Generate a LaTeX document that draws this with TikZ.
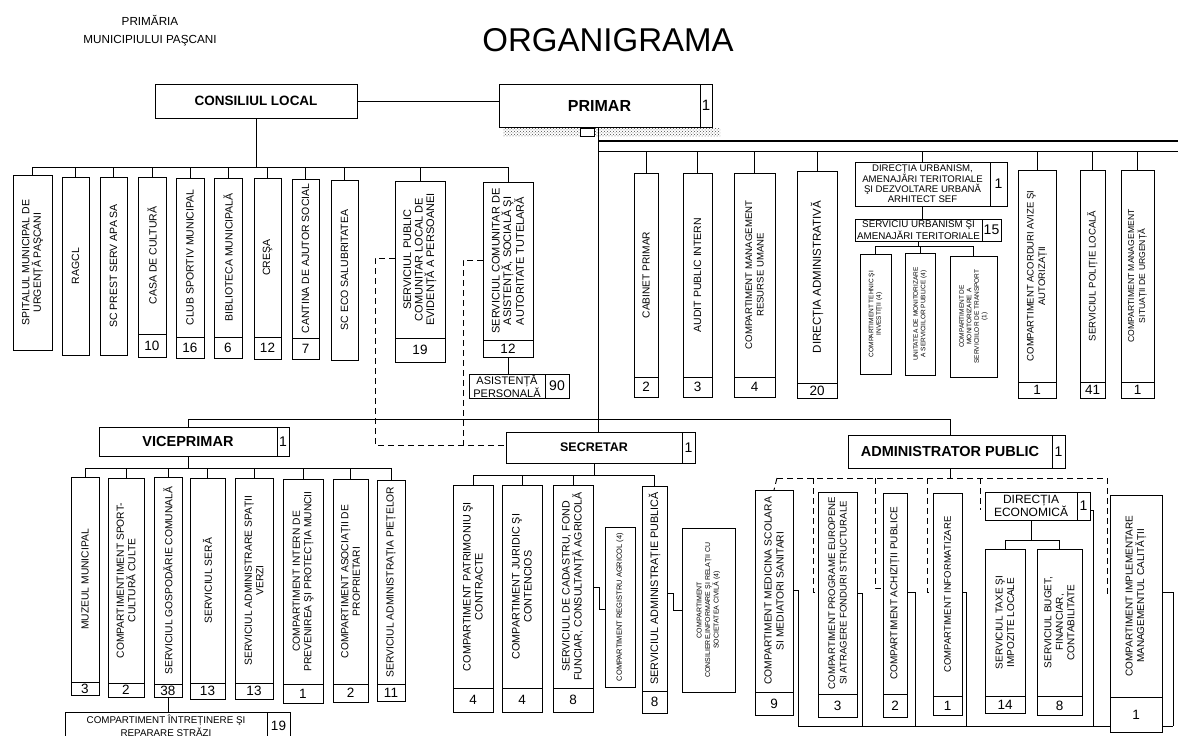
\documentclass[tikz,border=0pt]{standalone}
\usepackage{fontspec}
\setmainfont{Liberation Sans}
\usetikzlibrary{patterns}
% vertical box: name, x1, x2, ytop, ycount, ybottom, count, {size}{skip}, text
\newcommand{\ob}[9]{%
  \node[obox, minimum width={#3pt-#2pt}, minimum height={#6pt-#4pt}] (#1) at (#2,#4) {};
  \draw[ln] (#2,#5) -- (#3,#5);
  \node[vtext, font={\fontsize#8\selectfont}] (#1t) at ({(#2+#3)/2},{(#4+#5)/2}) {#9};
  \node[cnt] (#1c) at ({(#2+#3)/2},{(#5+#6)/2}) {#7};
}
% horizontal box: name, x1, xcell, x2, ytop, ybottom, count, {size}{skip}, text
\newcommand{\hb}[9]{%
  \node[obox, minimum width={#4pt-#2pt}, minimum height={#6pt-#5pt}] (#1) at (#2,#5) {};
  \draw[ln] (#3,#5) -- (#3,#6);
  \node[align=center, inner sep=0pt, font={\fontsize#8\selectfont}] (#1t) at ({(#2+#3)/2},{(#5+#6)/2}) {#9};
  \node[cnt] (#1c) at ({(#3+#4)/2},{(#5+#6)/2}) {#7};
}
\begin{document}
\begin{tikzpicture}[x=1pt,y=-1pt,
  obox/.style={draw, fill=white, anchor=north west, inner sep=0pt, outer sep=0pt, line width=0.9pt},
  ln/.style={line width=0.9pt},
  dl/.style={line width=0.9pt, dash pattern=on 6pt off 4pt},
  vtext/.style={rotate=90, align=center, inner sep=0pt},
  cnt/.style={inner sep=0pt, font=\fontsize{13.5}{13.5}\selectfont}]
\useasboundingbox (0,0) rectangle (1178,736);

% header
\node[font=\fontsize{11.7}{18}\selectfont, align=center] (hdr) at (150,31) {PRIMĂRIA\\MUNICIPIULUI PAŞCANI};
\node[font=\fontsize{33}{33}\selectfont] (title) at (608,40) {ORGANIGRAMA};

% top level
\hb{CL}{155}{357}{357}{84}{118}{}{{13.5}{14}}{\bfseries CONSILIUL LOCAL}
\hb{PR}{499}{700}{712}{84}{127}{\fontsize{15}{15}\selectfont 1}{{16}{16}}{\bfseries PRIMAR}
\fill[pattern=crosshatch dots, pattern color=black!70] (503,128) rectangle (720,136);
\node[obox, fill=white, line width=0.5pt, minimum width=14pt, minimum height=8pt] (prs) at (580,128) {};
\coordinate (pline1) at (598,141);
\coordinate (pline2) at (1178,141);
\draw[line width=1.3pt] (pline1) -- (pline2);

% ---------- Consiliul local subordinates
\ob{b1}{13}{52}{175}{350}{350}{}{{10.5}{11.5}}{SPITALUL MUNICIPAL DE\\URGENȚĂ PAŞCANI}
\ob{b2}{62}{89}{177}{355}{355}{}{{10.5}{11.5}}{RAGCL}
\ob{b3}{100}{127}{177}{355}{355}{}{{10.5}{11.5}}{SC PREST SERV APA SA}
\ob{b4}{138}{166}{177}{334}{357}{10}{{10.5}{11.5}}{CASA DE CULTURĂ}
\ob{b5}{176}{204}{178}{337}{358}{16}{{10.5}{11.5}}{CLUB SPORTIV MUNICIPAL}
\ob{b6}{214}{242}{178}{337}{358}{6}{{10.5}{11.5}}{BIBLIOTECA MUNICIPALĂ}
\ob{b7}{254}{281}{178}{337}{359}{12}{{10.5}{11.5}}{CREŞA}
\ob{b8}{292}{319}{179}{338}{359}{7}{{10.5}{11.5}}{CANTINA DE AJUTOR SOCIAL}
\ob{b9}{331}{358}{180}{360}{360}{}{{10.5}{11.5}}{SC ECO SALUBRITATEA}
\ob{b10}{395}{445}{181}{338}{362}{19}{{11}{11.5}}{SERVICIUL PUBLIC\\COMUNITAR LOCAL DE\\EVIDENȚĂ A PERSOANEI}
\ob{b11}{483}{533}{182}{340}{357}{12}{{11}{11.5}}{SERVICIUL COMUNITAR DE\\ASISTENȚĂ, SOCIALĂ ŞI\\AUTORITATE TUTELARĂ}
\hb{AP}{469}{545}{569}{374}{398}{\fontsize{14}{14}\selectfont 90}{{11}{10.5}}{ASISTENȚĂ\\PERSONALĂ}

\coordinate (clbus) at (0,167);
\draw[ln] (CLt |- CL.south) -- (CLt |- clbus);
\draw[ln] (b1.north |- clbus) -- (b11.north |- clbus);
\foreach \b in {b1,b2,b3,b4,b5,b6,b7,b8,b9,b10,b11}
  \draw[ln] (\b.north |- clbus) -- (\b.north);
\draw[ln] (b11.south) -- (b11.south |- AP.north);
\draw[ln] (CL.east) -- (CL.east -| PR.west);

% ---------- Primar subordinates
\ob{b12}{634}{658}{173}{377}{397}{2}{{10.2}{11.5}}{CABINET PRIMAR}
\ob{b13}{683}{712}{173}{377}{397}{3}{{10.5}{11.5}}{AUDIT PUBLIC INTERN}
\ob{b14}{734}{775}{173}{377}{397}{4}{{9.6}{11.5}}{COMPARTIMENT MANAGEMENT\\RESURSE UMANE}
\ob{b15}{797}{837}{171}{383}{398}{20}{{11.5}{12}}{DIRECȚIA ADMINISTRATIVĂ}
\hb{DU}{855}{990}{1007}{162}{206}{\fontsize{14}{14}\selectfont 1}{{9.6}{10}}{DIRECȚIA URBANISM,\\AMENAJĂRI TERITORIALE\\ŞI DEZVOLTARE URBANĂ\\ARHITECT SEF}
\hb{SU}{855}{982}{1001}{219}{241}{\fontsize{14}{14}\selectfont 15}{{9.8}{10}}{SERVICIU URBANISM ŞI\\AMENAJĂRI TERITORIALE}
\ob{b18}{860}{891}{254}{374}{374}{}{{6.5}{7.5}}{COMPARTIMENT TEHNIC ŞI\\INVESTIȚII (4)}
\ob{b19}{905}{935}{253}{375}{375}{}{{6.5}{7.5}}{UNITATEA DE MONITORIZARE\\A SERVICIILOR PUBLICE (4)}
\ob{b20}{950}{997}{256}{377}{377}{}{{6.5}{7.5}}{COMPARTIMENT DE\\MONITORIZARE A\\SERVICIILOR DE TRANSPORT\\(1)}
\ob{b21}{1018}{1056}{170}{382}{398}{1}{{9.5}{11.5}}{COMPARTIMENT ACORDURI AVIZE ŞI\\AUTORIZAȚII}
\ob{b22}{1080}{1105}{170}{382}{398}{41}{{9.6}{11.5}}{SERVICIUL POLIȚIE LOCALĂ}
\ob{b23}{1121}{1154}{170}{382}{398}{1}{{8.6}{11}}{COMPARTIMENT MANAGEMENT\\SITUAȚII DE URGENȚĂ}

\coordinate (ptop) at (598,127);
\coordinate (pbus) at (598,151);
\coordinate (pend) at (1178,151);
\draw[ln] (pbus) -- (pend);
\foreach \b in {b12,b13,b14,b15,b21,b22,b23}
  \draw[ln] (\b.north |- pbus) -- (\b.north);
\draw[ln] (DUt |- pbus) -- (DUt |- DU.north);
\draw[ln] (DUt |- DU.south) -- (DUt |- SU.north);
\coordinate (ubus) at (0,246);
\draw[ln] (SUt |- SU.south) -- (SUt |- ubus);
\draw[ln] (b18.north |- ubus) -- (b20.north |- ubus);
\foreach \b in {b18,b19,b20}
  \draw[ln] (\b.north |- ubus) -- (\b.north);

% ---------- second level
\hb{VP}{99}{277}{289}{427}{456}{\fontsize{14}{14}\selectfont 1}{{14.5}{15}}{\bfseries VICEPRIMAR}
\hb{SE}{506}{682}{695}{432}{463}{\fontsize{14}{14}\selectfont 1}{{12.5}{13}}{\bfseries SECRETAR}
\hb{AD}{848}{1052}{1065}{435}{468}{\fontsize{14}{14}\selectfont 1}{{14.5}{15}}{\bfseries ADMINISTRATOR PUBLIC}

\draw[ln] (ptop) -- (ptop |- SE.north);
\coordinate (mbus) at (0,419);
\draw[ln] (VPt |- VP.north) -- (VPt |- mbus) -- (ADt |- mbus) -- (ADt |- AD.north);

% dashed links to Secretar
\coordinate (y258) at (0,258);
\coordinate (y260) at (0,260);
\coordinate (d1) at (375,445);
\coordinate (d2) at (463,445);
\draw[dl] (b10.west |- y258) -| (d1) -- (d1 -| SE.west);
\draw[dl] (b11.west |- y260) -| (d2);

% ---------- Viceprimar subordinates
\ob{v1}{71}{99}{477}{682}{695}{3}{{10.3}{11.5}}{MUZEUL MUNICIPAL}
\ob{v2}{108}{144}{478}{683}{697}{2}{{10.3}{11.5}}{COMPARTIMENTIMENT SPORT-\\CULTURĂ CULTE}
\ob{v3}{154}{182}{477}{684}{697}{38}{{10.3}{11.5}}{SERVICIUL GOSPODĂRIE COMUNALĂ}
\ob{v4}{190}{225}{478}{683}{699}{13}{{10.3}{11.5}}{SERVICIUL SERĂ}
\ob{v5}{235}{273}{478}{683}{699}{13}{{10.3}{11.5}}{SERVICIUL ADMINISTRARE SPAȚII\\VERZI}
\ob{v6}{283}{323}{479}{684}{703}{1}{{10.3}{11.5}}{COMPARTIMENT INTERN DE\\PREVENIREA ŞI PROTECȚIA MUNCII}
\ob{v7}{333}{368}{479}{684}{702}{2}{{10.3}{11.5}}{COMPARTIMENT ASOCIAȚII DE\\PROPRIETARI}
\ob{v8}{377}{405}{480}{684}{701}{11}{{10.3}{11.5}}{SERVICIUL ADMINISTRAȚIA PIEȚELOR}
\hb{ST}{65}{267}{290}{712}{740}{19}{{9.8}{12.5}}{COMPARTIMENT ÎNTREȚINERE ŞI\\REPARARE STRĂZI}

\coordinate (vbus) at (0,468);
\draw[ln] (VPt |- VP.south) -- (VPt |- vbus);
\draw[ln] (v1.north |- vbus) -- (v8.north |- vbus);
\foreach \b in {v1,v2,v3,v4,v5,v6,v7,v8}
  \draw[ln] (\b.north |- vbus) -- (\b.north);
\draw[ln] (v3.south) -- (v3.south |- ST.north);

% ---------- Secretar subordinates
\ob{s1}{453}{493}{485}{688}{712}{4}{{10.8}{12}}{COMPARTIMENT PATRIMONIU ŞI\\CONTRACTE}
\ob{s2}{502}{542}{485}{688}{712}{4}{{10.8}{12}}{COMPARTIMENT JURIDIC ŞI\\CONTENCIOS}
\ob{s3}{553}{593}{485}{688}{712}{8}{{10.6}{12}}{SERVICIUL DE CADASTRU, FOND\\FUNCIAR, CONSULTANȚĂ AGRICOLĂ}
\ob{s4}{605}{635}{527}{687}{687}{}{{7.5}{8.5}}{COMPARTIMENT REGISTRU AGRICOL (4)}
\ob{s5}{642}{667}{486}{691}{713}{8}{{10.8}{12}}{SERVICIUL ADMINISTRAȚIE PUBLICĂ}
\ob{s6}{682}{735}{528}{692}{692}{}{{7}{8.5}}{COMPARTIMENT\\CONSILIERE,INFORMARE ŞI RELAȚII CU\\SOCIETATEA CIVILĂ (4)}

\coordinate (sbus) at (0,475);
\draw[ln] (SEt |- SE.south) -- (SEt |- sbus);
\draw[ln] (s1.north |- sbus) -- (s5.north |- sbus);
\foreach \b in {s1,s2,s3,s5}
  \draw[ln] (\b.north |- sbus) -- (\b.north);
\coordinate (y587) at (0,587);
\coordinate (y609) at (0,609);
\coordinate (y593) at (0,593);
\coordinate (y610) at (0,610);
\draw[ln] (s3.east |- y587) -- ++(6,0) |- (s4.west |- y609);
\draw[ln] (s5.east |- y593) -- ++(6,0) |- (s6.west |- y610);

% ---------- Administrator public subordinates
\coordinate (abus) at (0,478);
\coordinate (abl) at (777,478);
\coordinate (abr) at (1107,478);
\coordinate (r590) at (0,590);
\coordinate (r592) at (0,592);
\coordinate (r593) at (0,593);
\coordinate (r595) at (0,595);
\coordinate (r588) at (0,588);
\coordinate (r510) at (0,510);
\coordinate (bb) at (0,726);
\coordinate (bb1) at (798,726);
\coordinate (bb2) at (862,726);
\coordinate (bb3) at (915,726);
\coordinate (bb4) at (966,726);
\coordinate (bb5) at (1093,726);
\coordinate (bb6) at (1173,726);
\coordinate (k2) at (813,478);
\coordinate (k3) at (875,478);
\coordinate (k4) at (927,478);
\coordinate (k5) at (980,478);
\coordinate (k5e) at (980,510);

% bottom solid bus (drawn first, boxes cover it)
\draw[ln] (bb1) -- (bb6);

\ob{a1}{755}{793}{490}{692}{715}{9}{{10.3}{12}}{COMPARTIMENT MEDICINA SCOLARA\\SI MEDIATORI SANITARI}
\ob{a2}{818}{857}{492}{694}{717}{3}{{9.6}{11.5}}{COMPARTIMENT PROGRAME EUROPENE\\SI ATRAGERE FONDURI STRUCTURALE}
\ob{a3}{883}{907}{493}{694}{717}{2}{{10}{11.5}}{COMPARTIMENT ACHIZIȚII PUBLICE}
\ob{a4}{933}{962}{493}{696}{715}{1}{{9.5}{11.5}}{COMPARTIMENT INFORMATIZARE}
\hb{DE}{985}{1077}{1090}{492}{520}{\fontsize{14}{14}\selectfont 1}{{12}{13}}{DIRECȚIA\\ECONOMICĂ}
\ob{a5}{985}{1025}{549}{696}{713}{14}{{10}{11.5}}{SERVICIUL TAXE ŞI\\IMPOZITE LOCALE}
\ob{a6}{1037}{1082}{549}{696}{715}{8}{{10}{11.5}}{SERVICIUL BUGET,\\FINANCIAR,\\CONTABILITATE}
\ob{a7}{1110}{1162}{495}{697}{732}{1}{{10}{11.5}}{COMPARTIMENT IMPLEMENTARE\\MANAGEMENTUL CALITĂȚII}

\draw[ln] (ADt |- AD.south) -- (ADt |- abus);
\draw[dl] (abl) -- (abr);
\draw[dl] (abl) -- (a1.north);
\draw[dl] (k2) |- (a2.west |- r592);
\draw[dl] (k3) |- (a3.west |- r588);
\draw[dl] (k4) |- (a4.west |- r592);
\draw[dl] (k5) -- (k5e);
\draw[dl] (abr) |- (a7.west |- r595);

\coordinate (ebus) at (0,540);
\draw[ln] (DEt |- DE.south) -- (DEt |- ebus);
\draw[ln] (a5.north |- ebus) -- (a6.north |- ebus);
\foreach \b in {a5,a6}
  \draw[ln] (\b.north |- ebus) -- (\b.north);

\draw[ln] (a1.east |- r590) -| (bb1);
\draw[ln] (a2.east |- r593) -| (bb2);
\draw[ln] (a3.east |- r592) -| (bb3);
\draw[ln] (a4.east |- r592) -| (bb4);
\draw[ln] (DE.east |- r510) -| (bb5);
\draw[ln] (a7.east |- r592) -| (bb6);
\end{tikzpicture}
\end{document}
